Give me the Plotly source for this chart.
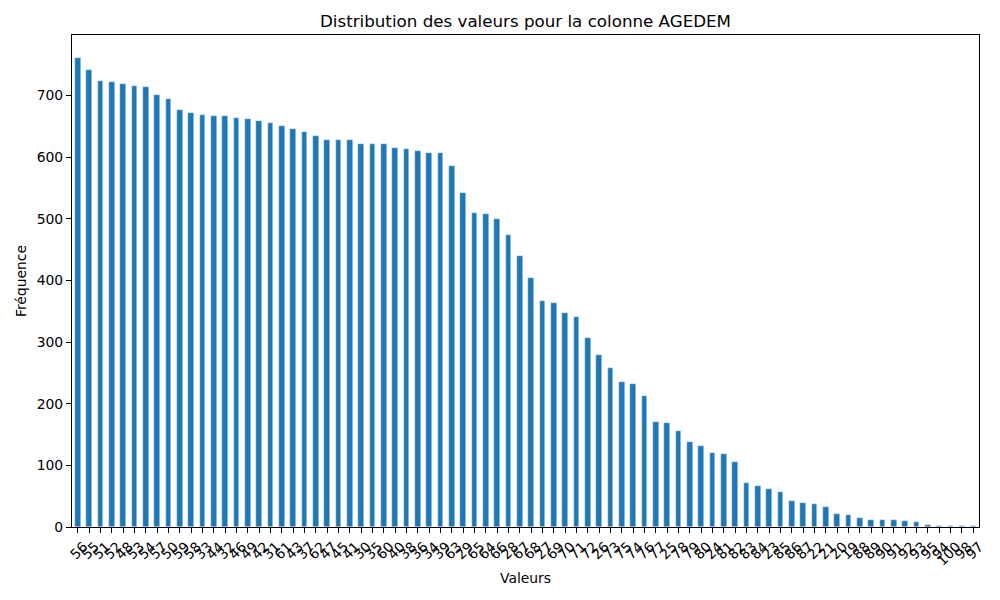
import plotly.graph_objects as go

# valeurs AGEDEM triées par fréquence (value_counts)
ages = ['56', '55', '51', '52', '48', '53', '54', '57', '50', '59',
        '58', '33', '44', '32', '46', '49', '42', '31', '61', '43',
        '37', '62', '47', '45', '41', '30', '35', '60', '40', '38',
        '36', '34', '39', '63', '29', '65', '64', '66', '28', '67',
        '68', '27', '69', '70', '71', '72', '26', '73', '75', '74',
        '76', '77', '25', '78', '79', '80', '24', '81', '82', '83',
        '84', '23', '85', '86', '87', '22', '21', '20', '19', '88',
        '89', '90', '91', '92', '93', '95', '94', '100', '98', '97']

freq = [760, 742, 723, 721, 718, 715, 714, 700, 695, 676,
        671, 669, 667, 667, 664, 661, 658, 656, 650, 645,
        641, 635, 628, 628, 627, 622, 622, 621, 615, 613,
        610, 607, 607, 586, 541, 510, 508, 500, 473, 440,
        404, 367, 364, 347, 341, 307, 279, 258, 235, 232,
        213, 171, 169, 156, 138, 132, 120, 118, 106, 72,
        67, 62, 57, 42, 39, 37, 33, 21, 20, 15,
        12, 12, 12, 10, 8, 3, 2, 1, 1, 1]

fig = go.Figure()
fig.add_trace(go.Bar(x=ages, y=freq, marker_color='#1f77b4', width=0.5))

axis_style = dict(showline=True, linecolor='black', linewidth=1.1, mirror=True,
                  ticks='outside', ticklen=5, tickwidth=1.1, tickcolor='black',
                  showgrid=False, zeroline=False,
                  tickfont=dict(size=13.9, color='black'))

# la page a une marge de 8px, on la retire des marges du graphe
fig.update_layout(
    width=1000, height=600,
    margin=dict(l=64, r=29, t=27, b=81),
    plot_bgcolor='white', paper_bgcolor='white',
    font=dict(family='DejaVu Sans', color='black'),
    title=dict(text='Distribution des valeurs pour la colonne AGEDEM',
               x=0.5, xref='paper', y=1 - 13 / 600, yref='container',
               yanchor='middle', font=dict(size=16.7)),
    bargap=0,
    showlegend=False,
)
fig.update_xaxes(type='category', range=[-0.5, 79.5], tickangle=-45,
                 tickmode='array', tickvals=ages, ticktext=ages,
                 ticklabelshift=6,
                 title=dict(text='Valeurs', font=dict(size=13.9), standoff=5),
                 automargin=False, **axis_style)
fig.update_yaxes(range=[0, 798], dtick=100,
                 title=dict(text='Fréquence', font=dict(size=13.9), standoff=6),
                 automargin=False, **axis_style)

fig.write_html("out.html")
